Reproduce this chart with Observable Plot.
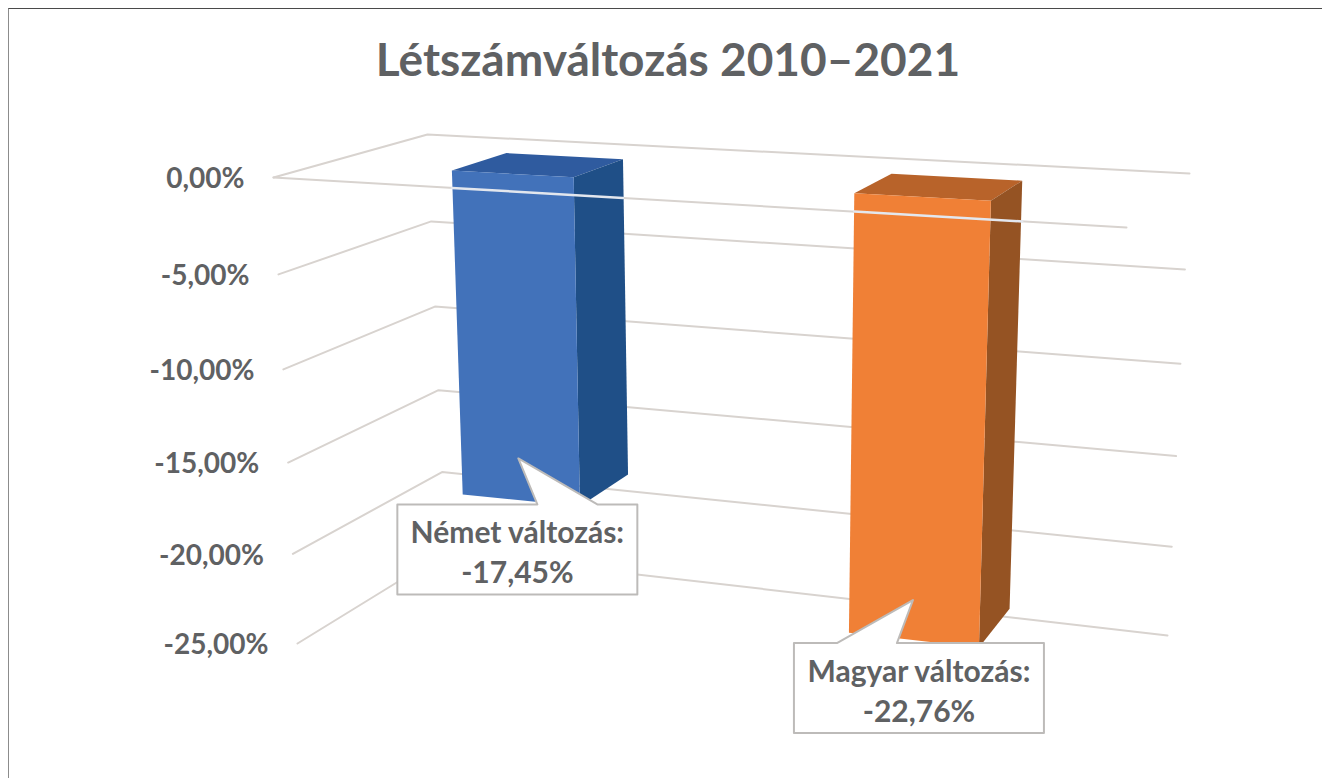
<!DOCTYPE html>
<html lang="hu">
<head>
<meta charset="utf-8">
<title>Létszámváltozás 2010–2021</title>
<script src="https://cdn.jsdelivr.net/npm/d3@7"></script>
<script src="https://cdn.jsdelivr.net/npm/@observablehq/plot@0.6"></script>
<style>
  html, body { margin: 0; padding: 0; background: #fff; overflow: hidden; }
  #page { position: relative; width: 1322px; height: 778px; }
  #frame { position: absolute; left: 8px; top: 8px; right: 0; bottom: 0;
           border-top: 1.5px solid #4a4a4a; border-left: 1.5px solid #8c8c8c; pointer-events: none; }
  #title { height: 110px; margin: 0; box-sizing: border-box; padding: 34px 0 0 14px; text-align: center;
           font: 700 46px/50px Lato, sans-serif; color: #5f6163; }
  svg { display: block; }
</style>
</head>
<body>
<div id="page">
  <div id="frame"></div>
  <h1 id="title"></h1>
  <div id="chart"></div>
</div>
<script>
// ---- data ----
const chartTitle = "Létszámváltozás 2010–2021";
const categories = ["Német változás", "Magyar változás"];
const values = [-17.45, -22.76];
const tickValues = [0, -5, -10, -15, -20, -25];

// ---- layout of the pseudo-3D box (page pixels) ----
const titleHeight = 110, W = 1322, H = 778;
const box = {
  top:    {fl: [273, 177], bl: [427, 134], br: [1189, 173], fr: [1126, 227]},
  bottom: {fl: [297, 643], bl: [445, 552], br: [1167, 635], fr: [1105, 742]}
};
const depth = {front: 0.33, back: 0.72};
const barSpans = [[0.155, 0.303], [0.644, 0.81]];
const barColors = [
  {front: "#4272ba", top: "#2f5b9f", side: "#1f4f87"},
  {front: "#f08036", top: "#b8632a", side: "#955323"}
];
const callouts = [
  {tipDx: -3, tipDy: -42, baseL: 19, baseR: 79, left: -121, right: 119, top: 46, bottom: 136},
  {tipDx: -1, tipDy: -40, baseL: -76, baseR: -16, left: -119, right: 131, top: 43, bottom: 133}
];

// ---- projection: (u across, v depth, value) -> page position ----
const mix = (a, b, t) => a + (b - a) * t;
const warp = value => { const f = value / tickValues[tickValues.length - 1], k = 0.05; return f * (1 + k) / (1 + k * f); };
const plane = (c, u, v, i) => mix(mix(c.fl[i], c.fr[i], u), mix(c.bl[i], c.br[i], u), v);
const P = (u, v, value) => {
  const g = warp(value);
  return {
    x: mix(plane(box.top, u, v, 0), plane(box.bottom, u, v, 0), g),
    y: mix(plane(box.top, u, v, 1), plane(box.bottom, u, v, 1), g)
  };
};
const fmtPct = v => v.toFixed(2).replace(".", ",") + "%";
const xy = {x: "x", y: "y"};

// ---- marks ----
const marks = [];

// gridlines along the left and the back wall, plus the front zero line
for (const t of tickValues) {
  marks.push(Plot.line([P(0, 0, t), P(0, 1, t), P(1, 1, t)], {...xy, stroke: "#d8d3cf", strokeWidth: 2}));
}
marks.push(Plot.line([P(0, 0, 0), P(1, 0, 0)], {...xy, stroke: "#d8d3cf", strokeWidth: 2}));

// bars
categories.forEach((name, i) => {
  const [u0, u1] = barSpans[i], {front: v0, back: v1} = depth, value = values[i], c = barColors[i];
  const face = (pts, fill) => Plot.line([...pts, pts[0]], {...xy, fill, stroke: "none"});
  marks.push(face([P(u0, v0, 0), P(u1, v0, 0), P(u1, v1, 0), P(u0, v1, 0)], c.top));
  marks.push(face([P(u1, v0, 0), P(u1, v1, 0), P(u1, v1, value), P(u1, v0, value)], c.side));
  marks.push(face([P(u0, v0, 0), P(u1, v0, 0), P(u1, v0, value), P(u0, v0, value)], c.front));
});

// the front zero line shows as a pale stripe where it crosses a bar
categories.forEach((name, i) => {
  const [u0, u1] = barSpans[i];
  const zl = P(0, 0, 0).x, zr = P(1, 0, 0).x;
  const a = (P(u0, depth.front, 0).x - zl) / (zr - zl);
  const b = (P(u1, depth.back, 0).x - zl) / (zr - zl);
  marks.push(Plot.line([P(a, 0, 0), P(b, 0, 0)], {...xy, stroke: "#e3e7ee", strokeWidth: 2.5}));
});

// callouts
categories.forEach((name, i) => {
  const [u0, u1] = barSpans[i], c = callouts[i];
  const anchor = P((u0 + u1) / 2, depth.front, values[i]);
  const tip = {x: anchor.x + c.tipDx, y: anchor.y + c.tipDy};
  const at = (dx, dy) => ({x: tip.x + dx, y: tip.y + dy});
  const outline = [
    at(c.baseL, c.top), tip, at(c.baseR, c.top), at(c.right, c.top),
    at(c.right, c.bottom), at(c.left, c.bottom), at(c.left, c.top), at(c.baseL, c.top)
  ];
  marks.push(Plot.line(outline, {...xy, fill: "#fff", stroke: "#bdbbb9", strokeWidth: 2}));
  marks.push(Plot.text([{...at((c.left + c.right) / 2, (c.top + c.bottom) / 2), label: `${name}:\n${fmtPct(values[i])}`}], {
    ...xy, text: "label", fontFamily: "Lato, sans-serif", fontWeight: 700, fontSize: 30, lineHeight: 1.33, dy: 1, fill: "#5f6163"
  }));
});

// value axis labels
marks.push(Plot.text(tickValues.map(t => ({...P(0, 0, t), label: fmtPct(t)})), {
  ...xy, text: "label", textAnchor: "end", dx: -29, dy: 2,
  fontFamily: "Lato, sans-serif", fontWeight: 700, fontSize: 28, fill: "#5f6163"
}));

document.getElementById("title").textContent = chartTitle;
document.getElementById("chart").append(Plot.plot({
  width: W,
  height: H - titleHeight,
  margin: 0,
  x: {domain: [0, W], range: [0, W], axis: null},
  y: {domain: [titleHeight, H], range: [0, H - titleHeight], axis: null},
  style: {background: "transparent"},
  marks
}));
</script>
</body>
</html>
